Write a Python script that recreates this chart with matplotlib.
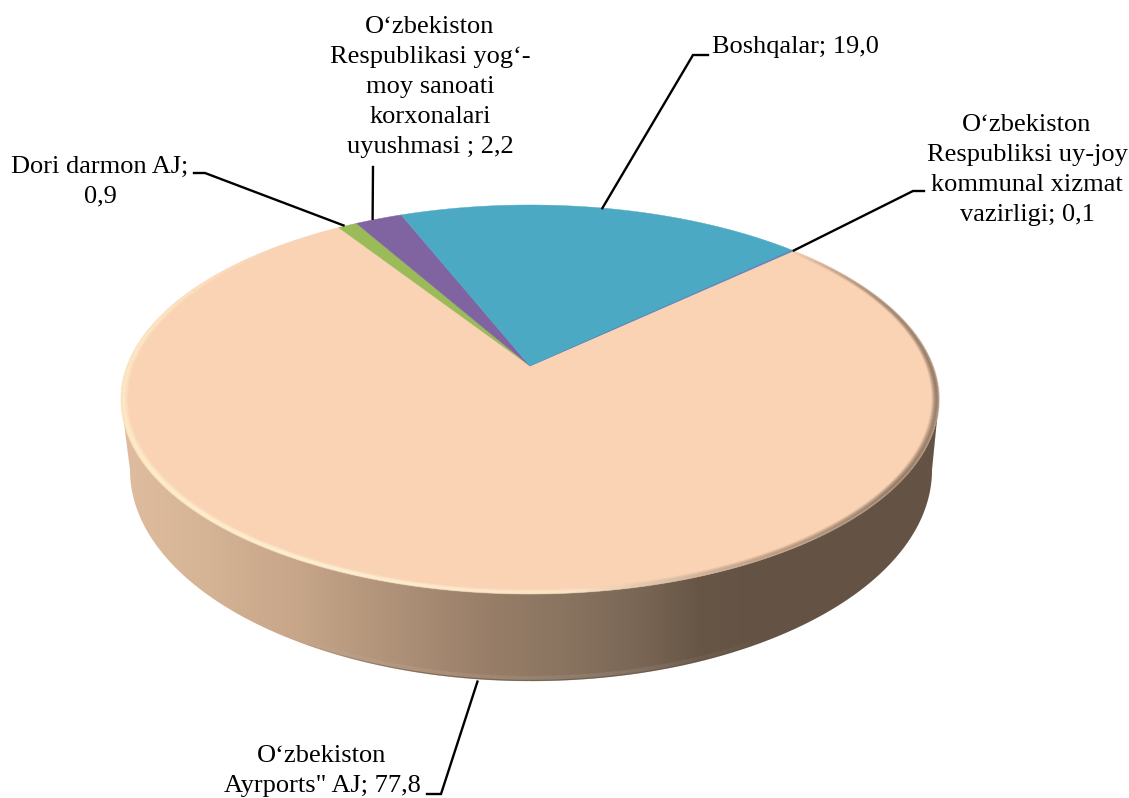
import numpy as np
import matplotlib
matplotlib.use('Agg')
import matplotlib.pyplot as plt
from matplotlib.collections import LineCollection
from matplotlib.colors import to_rgb
from matplotlib.patches import Polygon

# slices in clockwise order
names = ['O‘zbekiston\nAyrports" AJ; 77,8',
         'Dori darmon AJ;\n0,9',
         'O‘zbekiston\nRespublikasi yog‘-\nmoy sanoati\nkorxonalari\nuyushmasi ; 2,2',
         'Boshqalar; 19,0',
         'O‘zbekiston\nRespubliksi uy-joy\nkommunal xizmat\nvazirligi; 0,1']
values = [77.8, 0.9, 2.2, 19.0, 0.1]
colors = ['#FAD2B4', '#9BBB59', '#8064A2', '#4BA9C4', '#5B80B8']

# label centre, leader elbow, leader end, shift of leader start
label_xy = [(322, 771), (100, 182), (430, 87), (795, 47), (1027, 170)]
elbows = [(441, 794), (205, 173), (373, 167), (693, 55), (913, 191)]
ends = [(427, 794), (194, 173), (373, 167), (708, 55), (924, 191)]
nudge = [(7, 3), (-4, 0), (-6, 0), (-2, 0), (1, 0)]

start_angle = 47.0
cx, cy = 530, 366     # apex of the slices
ax_x, ax_y, k = 402.9, 188.7, -0.172   # perspective of the disc
low_cx, low_cy, low_a, low_b = 531, 470, 401, 211


def project(theta, r=1.0):
    t = np.radians(theta)
    x = r * np.sin(t)
    y = -r * np.cos(t)
    d = 1 + k * y
    return cx + ax_x * x / d, cy + ax_y * y / d


def strip(x, y):
    pts = np.column_stack([x, y]).reshape(-1, 1, 2)
    return np.concatenate([pts[:-1], pts[1:]], axis=1)


fig = plt.figure(figsize=(11.29, 7.98), dpi=100)
ax = fig.add_axes([0, 0, 1, 1])
plt.rcParams['font.family'] = ['Liberation Serif', 'DejaVu Serif']

# side of the disc, horizontal gradient clipped to the outline
xs = np.linspace(110, 950, 420)
stops_x = [125, 200, 300, 400, 480, 560, 640, 700, 760, 940]
stops_c = ['#DFBC9E', '#D6B496', '#C6A588', '#AD9077', '#9A7F69', '#8A7561',
           '#7A6655', '#675646', '#645344', '#645344']
stops_rgb = np.array([to_rgb(c) for c in stops_c])
grad = np.stack([np.interp(xs, stops_x, stops_rgb[:, i]) for i in range(3)], axis=1)
im = ax.imshow(grad[np.newaxis, :, :], extent=(110, 950, 700, 380), aspect='auto')

t = np.linspace(0, 180, 300)
low_x = low_cx - low_a * np.cos(np.radians(t))
low_y = low_cy + low_b * np.sin(np.radians(t))
rim_t = np.linspace(0, 360, 721)
rim_x, rim_y = project(rim_t)
left_i = np.argmin(rim_x)
right_i = np.argmax(rim_x)
outline = np.vstack([[rim_x[left_i], rim_y[left_i]],
                     np.column_stack([low_x, low_y]),
                     [rim_x[right_i], rim_y[right_i]]])
clip = Polygon(outline, closed=True, transform=ax.transData, facecolor='none', edgecolor='none')
ax.add_patch(clip)
im.set_clip_path(clip)

# lip along the bottom edge of the side, fades out towards the sides
lip_a = np.clip((low_y[:-1] - 640) / 35, 0, 1)
lip_dark = np.column_stack([np.tile(to_rgb('#5E4E40'), (len(lip_a), 1)), lip_a * 0.5])
lip_light = np.column_stack([np.ones((len(lip_a), 3)), lip_a * 0.08])
ax.add_collection(LineCollection(strip(low_x, low_y - 3), colors=lip_light, linewidths=3))
ax.add_collection(LineCollection(strip(low_x, low_y - 0.5), colors=lip_dark, linewidths=1))

# top face
angles = start_angle + np.cumsum([0] + values) / sum(values) * 360
for i, c in enumerate(colors):
    th = np.linspace(angles[i], angles[i + 1], max(int(angles[i + 1] - angles[i]) * 3, 4))
    px, py = project(th)
    ax.fill(np.r_[cx, px], np.r_[cy, py], facecolor=c, edgecolor=c, lw=0.3, zorder=3)

# bevel on the rim of the big slice
th = np.linspace(angles[0], angles[1], 700)
mid = (th[:-1] + th[1:]) / 2
rim_stops = [47, 70, 95, 125, 150, 175, 205, 240, 280, 310, 327]
rim_alpha = [0.0, 0.45, 0.8, 0.75, 0.45, 0.55, 0.9, 1.0, 0.8, 0.15, 0.0]
rim_cols = np.array([to_rgb(c) for c in ['#6A5848', '#6A5848', '#6A5848', '#6A5848', '#8A7561',
                                         '#FFF0D2', '#FFF6D8', '#FFF4D0', '#FFEFCB', '#FFE8C8',
                                         '#FFE8C8']])
seg_rgb = np.stack([np.interp(mid, rim_stops, rim_cols[:, i]) for i in range(3)], axis=1)
seg_a = np.interp(mid, rim_stops, rim_alpha)
radii = np.linspace(1.0, 0.982, 10)
profile = np.interp(radii, [0.982, 0.99, 0.994, 1.0], [0.0, 0.42, 0.62, 0.3])
for r, p in zip(radii, profile):
    px, py = project(th, r)
    rgba = np.column_stack([seg_rgb, seg_a * p])
    ax.add_collection(LineCollection(strip(px, py), colors=rgba, linewidths=1.2, zorder=4))

# leaders and labels
for i, name in enumerate(names):
    m = (angles[i] + angles[i + 1]) / 2
    ax_, ay_ = project(m)
    if i == 0:  # front slice, leader starts on the lower edge
        ay_ = low_cy + low_b * np.sqrt(max(1 - ((ax_ - low_cx) / low_a) ** 2, 0))
    ax.plot([ax_ + nudge[i][0], elbows[i][0], ends[i][0]],
            [ay_ + nudge[i][1], elbows[i][1], ends[i][1]],
            color='black', lw=1.7, zorder=5, solid_joinstyle='miter')
    ax.text(label_xy[i][0], label_xy[i][1], name, ha='center', va='center',
            fontsize=19, linespacing=1.46, color='black', zorder=6)

ax.set_xlim(0, 1129)
ax.set_ylim(798, 0)
ax.axis('off')
fig.savefig('out.png', dpi=100, facecolor='white')
